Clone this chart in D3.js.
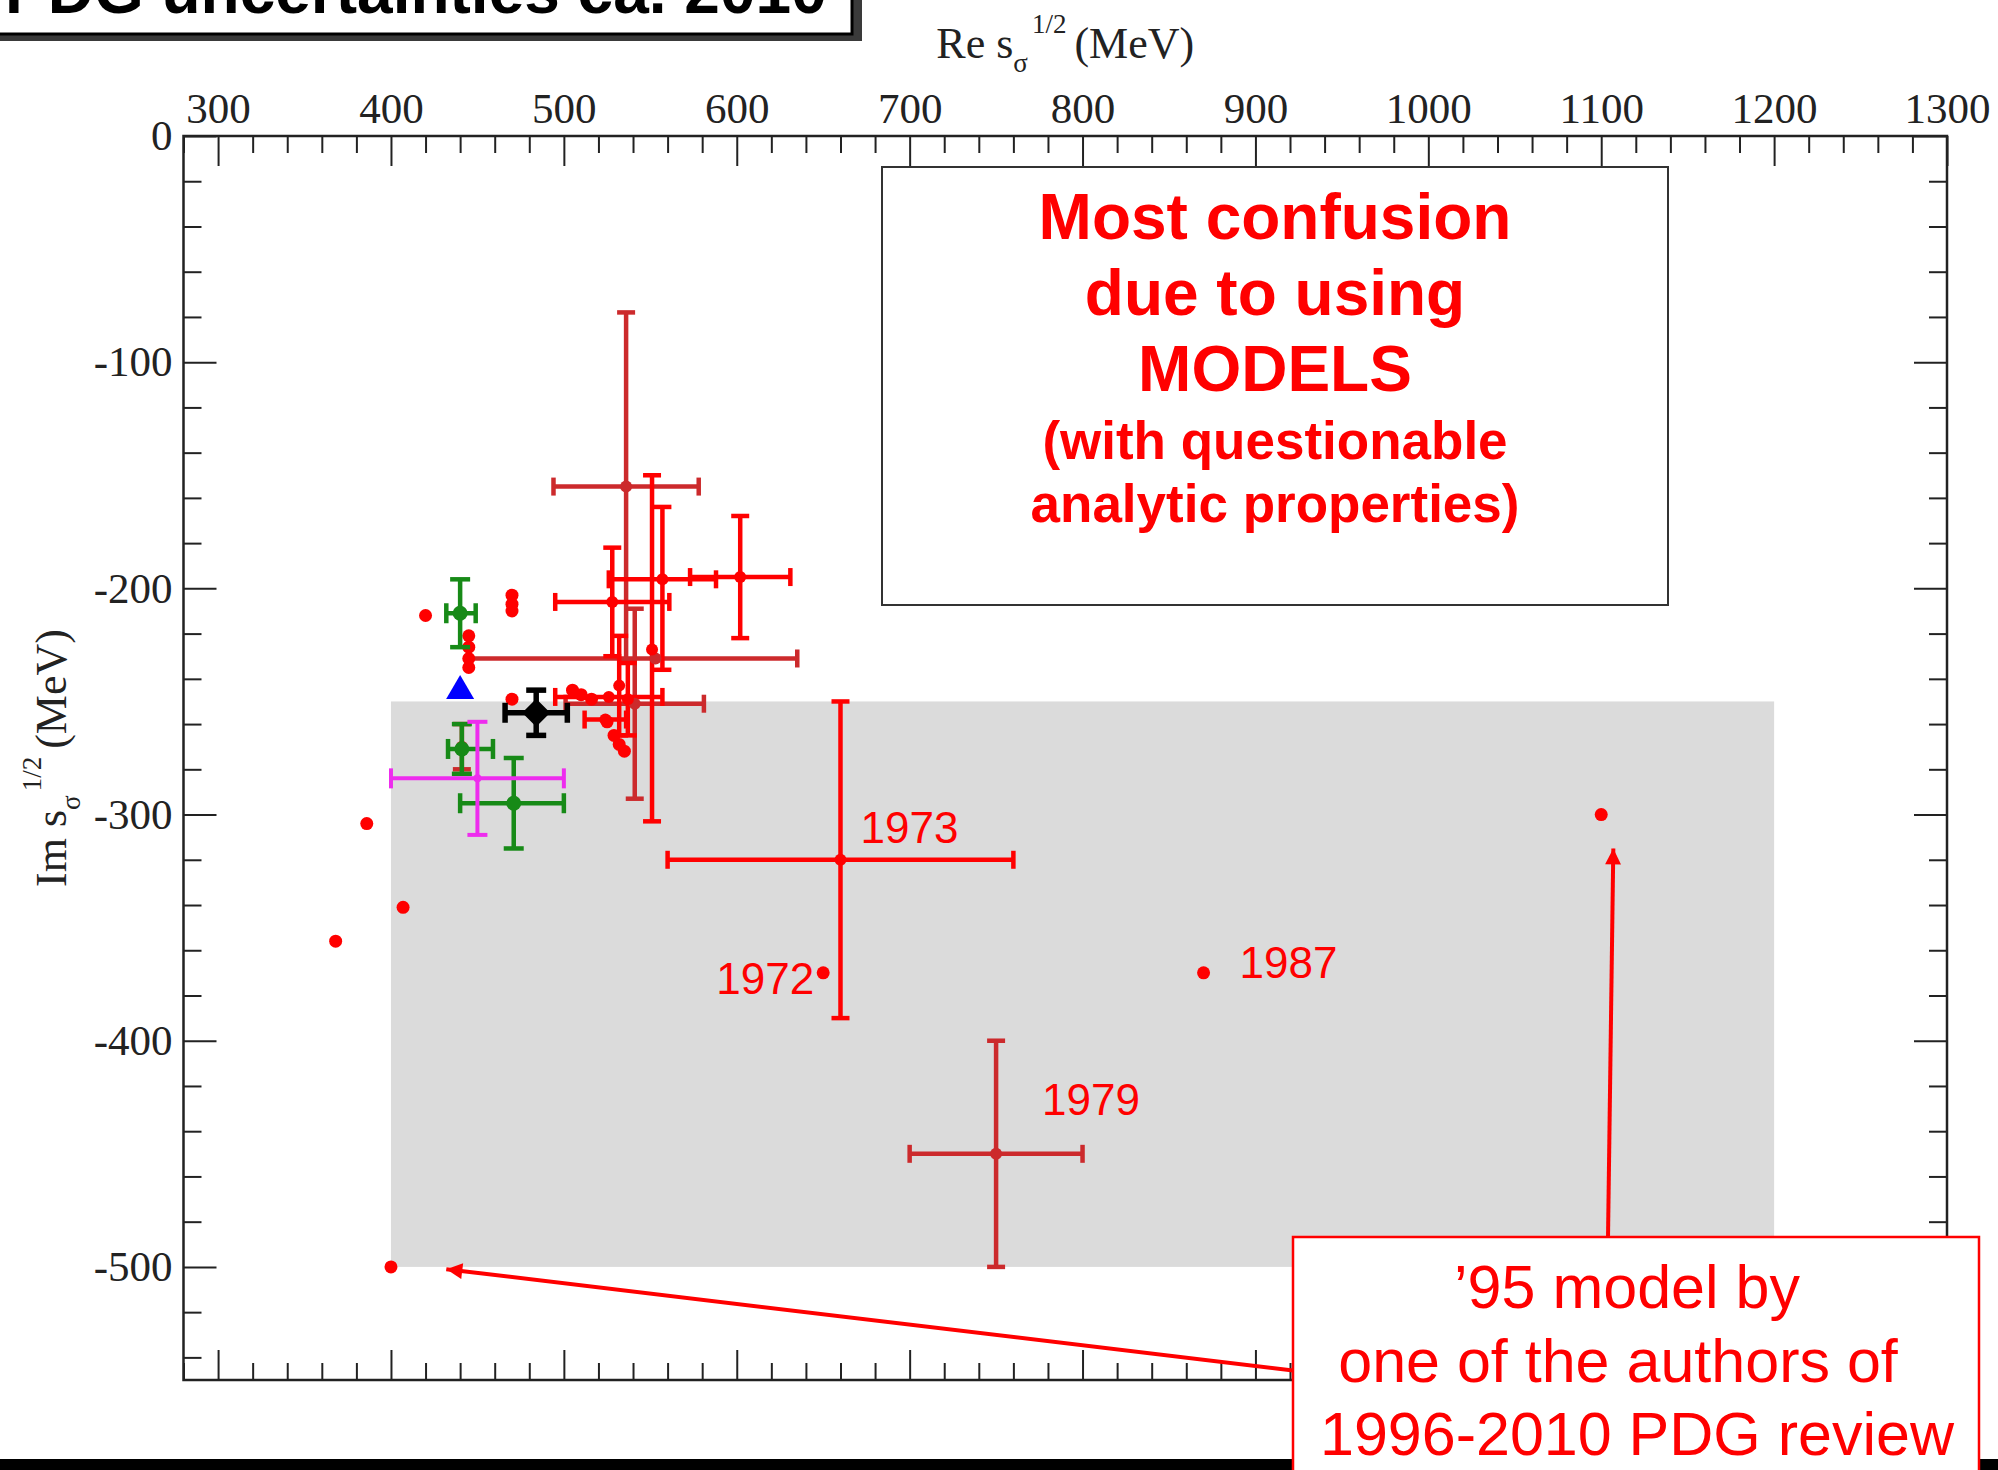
<!DOCTYPE html>
<meta charset="utf-8">
<style>
body { margin: 0; background: #fff; }
svg { display: block; }
.tick text { font-family: "Liberation Serif", "Times New Roman", serif; font-size: 43px; fill: #222; }
.tick line { stroke: #222; stroke-width: 2px; }
.axis path { display: none; }
.alabel { font-family: "Liberation Serif", serif; font-size: 44px; fill: #222; }
.note { font-family: "Liberation Sans", Arial, sans-serif; fill: #ff0000; }
</style>
<svg width="1998" height="1470"></svg>
<script src="https://d3js.org/d3.v7.min.js"></script>
<script>

// plain points, no error bars  [Re, Im]
var redDots = [
  [368, -356], [386, -304], [407, -341], [400, -500], [420, -212],
  [470, -203], [470, -207], [470, -210],
  [445, -221], [445, -226], [445, -231], [445, -235],
  [470, -249], [505, -245], [510, -247], [516, -249],
  [525, -259], [529, -265], [532, -269], [535, -272],
  [650, -370], [870, -370], [1100, -300]
];

// points with errors  [Re, Im, dRe-, dRe+, dIm-, dIm+]
var brightRed = [
  [557, -196, 31, 31, 40, 32],
  [602, -195, 29, 29, 27, 27],
  [528, -206, 33, 33, 24, 24],
  [551, -227, 0, 0, 76, 77],
  [526, -248, 31, 31, 0, 0],
  [524, -258, 12, 12, 0, 0],
  [532, -243, 0, 0, 22, 22],
  [537, -249, 0, 0, 16, 16],
  [660, -320, 100, 100, 70, 70]
];
var darkRed = [
  [536, -155, 42, 42, 77, 77],
  [553, -231, 108, 82, 0, 0],
  [541, -251, 40, 40, 42, 42],
  [441, -270, 0, 0, 10, 10],
  [750, -450, 50, 50, 50, 50]
];
var greenPts = [
  [440, -211, 8, 9, 15, 15],
  [441, -271, 8, 18, 11, 11],
  [471, -295, 31, 29, 20, 20]
];
var magentaPts = [[450, -284, 50, 50, 25, 25]];
var blackPts = [[484, -255, 18, 18, 10, 10]];
var bluePts = [[440, -244]];

// shaded PDG band [Re from, Re to, Im from, Im to]
var pdgBand = [400, 1200, -250, -500];

var yearLabels = [["1973", 660, -320], ["1972", 650, -370], ["1987", 870, -370], ["1979", 750, -450]];

var xMajor = d3.range(300, 1301, 100);
var xMinor = d3.range(280, 1301, 20).filter(function(d) { return d % 100 != 0; });
var yMajor = d3.range(0, -501, -100);
var yMinor = d3.range(-20, -541, -20).filter(function(d) { return d % 100 != 0; });

var svg = d3.select("svg");

var x = d3.scaleLinear().domain([280, 1300]).range([183.5, 1947]);
var y = d3.scaleLinear().domain([0, -550]).range([136, 1380]);

var x0px = x.range()[0], x1px = x.range()[1], y0px = y.range()[0], y1px = y.range()[1];

// grey band
svg.append("rect")
    .attr("x", x(pdgBand[0])).attr("y", y(pdgBand[2]))
    .attr("width", x(pdgBand[1]) - x(pdgBand[0]))
    .attr("height", y(pdgBand[3]) - y(pdgBand[2]))
    .attr("fill", "#dbdbdb");

function errorBars(data, color, width, cap) {
  var g = svg.append("g").attr("stroke", color).attr("stroke-width", width).attr("fill", "none");
  data.forEach(function(d) {
    var cx = x(d[0]), cy = y(d[1]);
    if (d[2] || d[3]) {
      var xa = x(d[0] - d[2]), xb = x(d[0] + d[3]);
      g.append("line").attr("x1", xa).attr("x2", xb).attr("y1", cy).attr("y2", cy);
      if (d[2]) g.append("line").attr("x1", xa).attr("x2", xa).attr("y1", cy - cap).attr("y2", cy + cap);
      if (d[3]) g.append("line").attr("x1", xb).attr("x2", xb).attr("y1", cy - cap).attr("y2", cy + cap);
    }
    if (d[4] || d[5]) {
      var ya = y(d[1] - d[4]), yb = y(d[1] + d[5]);
      g.append("line").attr("x1", cx).attr("x2", cx).attr("y1", ya).attr("y2", yb);
      if (d[4]) g.append("line").attr("x1", cx - cap).attr("x2", cx + cap).attr("y1", ya).attr("y2", ya);
      if (d[5]) g.append("line").attr("x1", cx - cap).attr("x2", cx + cap).attr("y1", yb).attr("y2", yb);
    }
  });
}

function circles(data, color, r) {
  svg.append("g").selectAll("circle")
    .data(data)
    .enter().append("circle")
      .attr("cx", function(d) { return x(d[0]); })
      .attr("cy", function(d) { return y(d[1]); })
      .attr("r", r)
      .attr("fill", color);
}

errorBars(darkRed, "#cc2a2c", 4.5, 9);
errorBars(brightRed, "#ff0000", 4.5, 9);
circles(darkRed, "#cc2a2c", 6);
circles(brightRed, "#ff0000", 6);
circles(redDots, "#ff0000", 6.5);

errorBars(greenPts, "#178a17", 4.5, 10);
circles(greenPts, "#178a17", 7.5);
errorBars(magentaPts, "#ee2cee", 4, 10);
circles(magentaPts, "#ee2cee", 4);
errorBars(blackPts, "#000", 5.5, 10);

svg.append("g").selectAll("path")
  .data(blackPts)
  .enter().append("path")
    .attr("d", function(d) {
      var cx = x(d[0]), cy = y(d[1]), s = 14;
      return "M" + cx + "," + (cy - s) + "L" + (cx + s) + "," + cy + "L" + cx + "," + (cy + s) + "L" + (cx - s) + "," + cy + "Z";
    })
    .attr("fill", "#000");

svg.append("g").selectAll("path")
  .data(bluePts)
  .enter().append("path")
    .attr("d", function(d) {
      var cx = x(d[0]), cy = y(d[1]);
      return "M" + cx + "," + (cy - 13) + "L" + (cx + 14) + "," + (cy + 11) + "L" + (cx - 14) + "," + (cy + 11) + "Z";
    })
    .attr("fill", "#0000ff");

// year labels
var yearOffsets = { "1973": [20, -17, "start"], "1972": [-9, 21, "end"], "1987": [36, 5, "start"], "1979": [46, -39, "start"] };
svg.append("g").selectAll("text")
  .data(yearLabels)
  .enter().append("text")
    .attr("class", "note")
    .attr("font-size", 44)
    .attr("x", function(d) { return x(d[1]) + yearOffsets[d[0]][0]; })
    .attr("y", function(d) { return y(d[2]) + yearOffsets[d[0]][1]; })
    .attr("text-anchor", function(d) { return yearOffsets[d[0]][2]; })
    .text(function(d) { return d[0]; });

// axes (ticks inside on all sides)
function fmt(d) { return String(d); }
svg.append("g").attr("class", "axis").attr("transform", "translate(0," + y0px + ")")
    .call(d3.axisTop(x).tickValues(xMajor).tickSize(-30).tickPadding(13).tickFormat(fmt));
svg.append("g").attr("class", "axis").attr("transform", "translate(0," + y0px + ")")
    .call(d3.axisTop(x).tickValues(xMinor).tickSize(-17).tickFormat(""));
svg.append("g").attr("class", "axis").attr("transform", "translate(0," + y1px + ")")
    .call(d3.axisBottom(x).tickValues(xMajor).tickSize(-30).tickFormat(""));
svg.append("g").attr("class", "axis").attr("transform", "translate(0," + y1px + ")")
    .call(d3.axisBottom(x).tickValues(xMinor).tickSize(-17).tickFormat(""));
svg.append("g").attr("class", "axis").attr("transform", "translate(" + x0px + ",0)")
    .call(d3.axisLeft(y).tickValues(yMajor).tickSize(-33).tickPadding(11).tickFormat(fmt));
svg.append("g").attr("class", "axis").attr("transform", "translate(" + x0px + ",0)")
    .call(d3.axisLeft(y).tickValues(yMinor).tickSize(-18).tickFormat(""));
svg.append("g").attr("class", "axis").attr("transform", "translate(" + x1px + ",0)")
    .call(d3.axisRight(y).tickValues(yMajor).tickSize(-33).tickFormat(""));
svg.append("g").attr("class", "axis").attr("transform", "translate(" + x1px + ",0)")
    .call(d3.axisRight(y).tickValues(yMinor).tickSize(-18).tickFormat(""));

svg.append("rect")
    .attr("x", x0px).attr("y", y0px)
    .attr("width", x1px - x0px).attr("height", y1px - y0px)
    .attr("fill", "none").attr("stroke", "#222").attr("stroke-width", 2.5);

// axis titles
var xt = svg.append("text").attr("class", "alabel")
    .attr("x", (x0px + x1px) / 2).attr("y", 58).attr("text-anchor", "middle");
xt.append("tspan").text("Re s");
xt.append("tspan").attr("font-size", 27).attr("dy", 14).text("\u03c3");
xt.append("tspan").attr("font-size", 27).attr("dy", -39).attr("dx", 4).text("1/2");
xt.append("tspan").attr("dy", 25).attr("dx", 8).text("(MeV)");

var yt = svg.append("text").attr("class", "alabel")
    .attr("transform", "translate(66," + (y0px + y1px) / 2 + ") rotate(-90)")
    .attr("text-anchor", "middle");
yt.append("tspan").text("Im s");
yt.append("tspan").attr("font-size", 27).attr("dy", 14).text("\u03c3");
yt.append("tspan").attr("font-size", 27).attr("dy", -39).attr("dx", 4).text("1/2");
yt.append("tspan").attr("dy", 25).attr("dx", 8).text("(MeV)");

// "most confusion" box
svg.append("rect")
    .attr("x", 882).attr("y", 167).attr("width", 786).attr("height", 438)
    .attr("fill", "#fff").attr("stroke", "#333").attr("stroke-width", 2);
var boxLines = [
  ["Most confusion", 64, 239], ["due to using", 64, 315], ["MODELS", 64, 391],
  ["(with questionable", 53, 459], ["analytic properties)", 53, 522]
];
svg.append("g").selectAll("text")
  .data(boxLines)
  .enter().append("text")
    .attr("class", "note")
    .attr("font-weight", "bold")
    .attr("text-anchor", "middle")
    .attr("x", 1275)
    .attr("y", function(d) { return d[2]; })
    .attr("font-size", function(d) { return d[1]; })
    .text(function(d) { return d[0]; });

// title box, cut at the top of the page
svg.append("rect").attr("x", -12).attr("y", -60).attr("width", 874).attr("height", 101).attr("fill", "#3a3a3a");
svg.append("rect").attr("x", -12).attr("y", -60).attr("width", 864).attr("height", 94)
    .attr("fill", "#fff").attr("stroke", "#000").attr("stroke-width", 3);
svg.append("text")
    .attr("x", 5).attr("y", 13)
    .attr("font-family", "Liberation Sans, Arial, sans-serif")
    .attr("font-weight", "bold").attr("font-size", 64)
    .text("PDG uncertainties ca. 2010");

// black strip at the bottom
svg.append("rect").attr("x", 0).attr("y", 1459).attr("width", 1998).attr("height", 11).attr("fill", "#000");

// '95 model box and arrows
svg.append("defs").append("marker")
    .attr("id", "head").attr("viewBox", "0 0 10 10")
    .attr("refX", 10).attr("refY", 5)
    .attr("markerWidth", 22).attr("markerHeight", 16)
    .attr("markerUnits", "userSpaceOnUse")
    .attr("orient", "auto")
  .append("path").attr("d", "M0,0L10,5L0,10Z").attr("fill", "#ff0000");

svg.append("line")
    .attr("x1", 1314).attr("y1", 1373)
    .attr("x2", x(432)).attr("y2", y(-501))
    .attr("stroke", "#ff0000").attr("stroke-width", 4).attr("marker-end", "url(#head)");
svg.append("line")
    .attr("x1", 1608).attr("y1", 1238)
    .attr("x2", x(1107)).attr("y2", y(-315))
    .attr("stroke", "#ff0000").attr("stroke-width", 4).attr("marker-end", "url(#head)");

svg.append("rect")
    .attr("x", 1293).attr("y", 1237).attr("width", 686).attr("height", 300)
    .attr("fill", "#fff").attr("stroke", "#ff0000").attr("stroke-width", 2.5);
var modelLines = [["\u201995 model by", 1627, 1308], ["one of the authors of", 1618, 1382], ["1996-2010 PDG review", 1637, 1455]];
svg.append("g").selectAll("text")
  .data(modelLines)
  .enter().append("text")
    .attr("class", "note")
    .attr("font-size", 61)
    .attr("text-anchor", "middle")
    .attr("x", function(d) { return d[1]; })
    .attr("y", function(d) { return d[2]; })
    .text(function(d) { return d[0]; });

</script>
